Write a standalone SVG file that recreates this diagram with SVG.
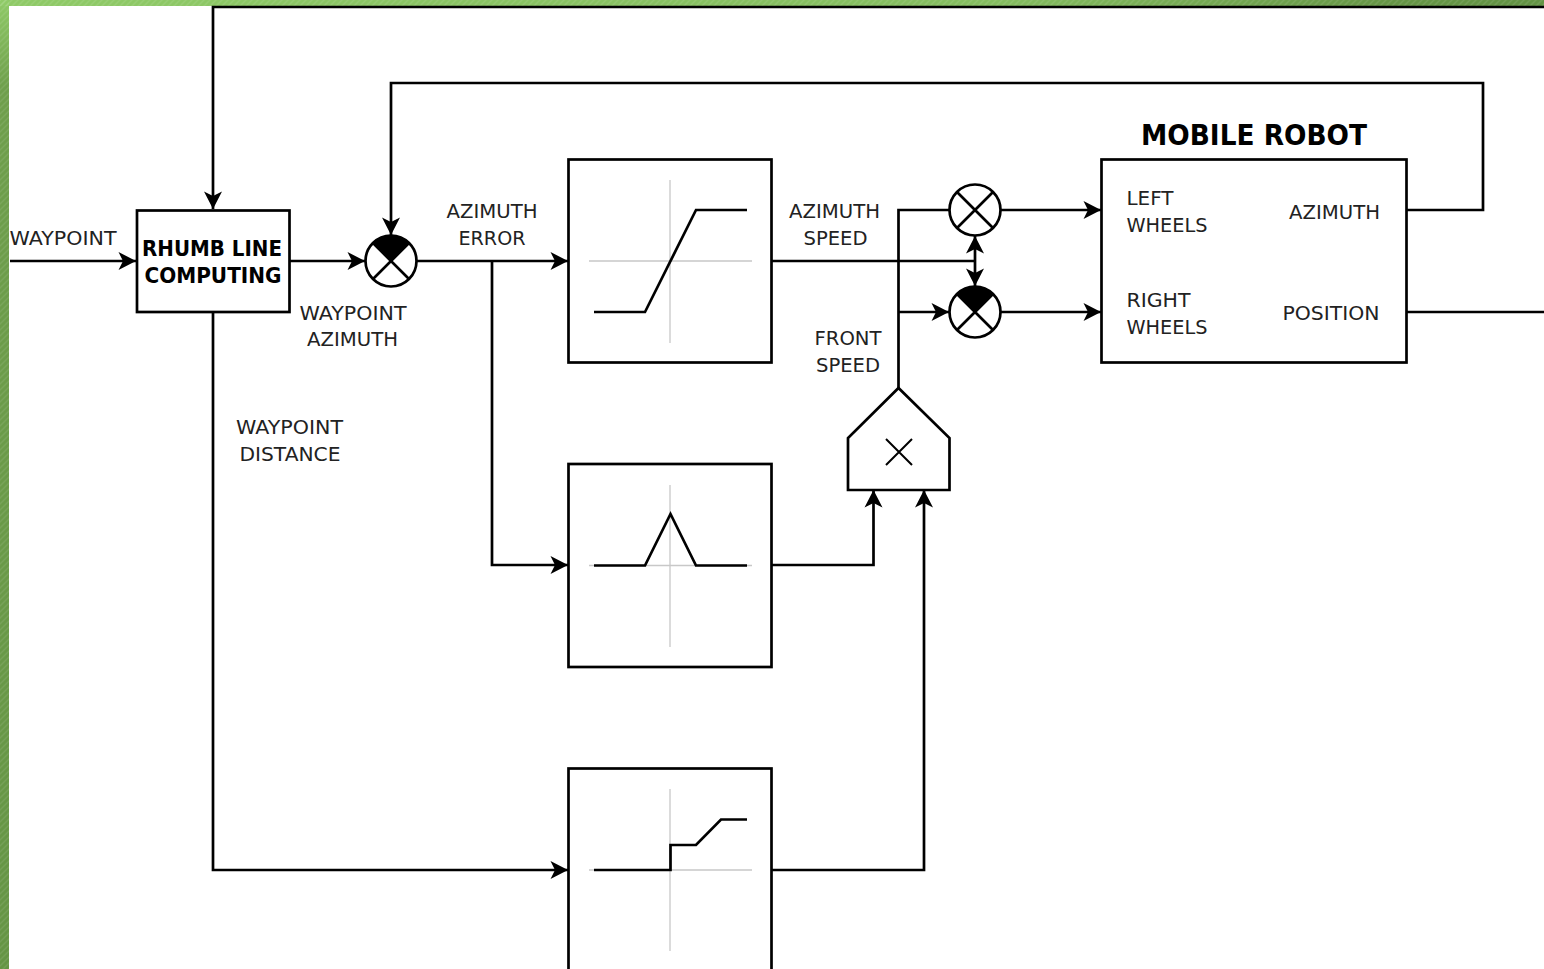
<svg xmlns="http://www.w3.org/2000/svg" width="1544" height="969" viewBox="0 0 1544 969">
<style>
.l{fill:none;stroke:#000;stroke-width:2.7}
.n{fill:#fff;stroke:#000;stroke-width:2.7}
.g{fill:none;stroke:#c8c8c8;stroke-width:1.3}
.t{font-family:"DejaVu Sans",sans-serif;font-size:20px;fill:#222;text-anchor:middle}
.b{font-family:"DejaVu Sans",sans-serif;font-weight:bold;fill:#000;text-anchor:middle}
</style>
<defs>
<linearGradient id="gl" x1="0" y1="0" x2="0" y2="1"><stop offset="0" stop-color="#8fca67"/><stop offset="0.09" stop-color="#6f9f4c"/><stop offset="1" stop-color="#659545"/></linearGradient>
<linearGradient id="gt" x1="0" y1="0" x2="1" y2="0"><stop offset="0" stop-color="#8fca67"/><stop offset="0.65" stop-color="#85bd60"/><stop offset="0.9" stop-color="#669646"/><stop offset="1" stop-color="#639344"/></linearGradient>
<pattern id="hatch" width="6" height="6" patternUnits="userSpaceOnUse"><path d="M-1 7L7 -1M-1 1L1 -1M5 7L7 5" stroke="#fff" stroke-opacity="0.09" stroke-width="1.5" fill="none"/></pattern>
<marker id="a" markerUnits="userSpaceOnUse" markerWidth="22" markerHeight="22" refX="18" refY="10" orient="auto-start-reverse"><path d="M0.500 1 L18 10 L0.500 19 L5 10Z" fill="#000"/></marker>
</defs>
<rect width="1544" height="969" fill="#fff"/>
<g id="border">
<rect x="0" y="0" width="9" height="969" fill="url(#gl)"/>
<rect x="0" y="0" width="1544" height="6" fill="url(#gt)"/>
<rect x="0" y="0" width="9" height="969" fill="url(#hatch)"/>
<rect x="0" y="0" width="1544" height="6" fill="url(#hatch)"/>
</g>
<g id="connectors">
<path class="l" d="M1544 7H213V209" marker-end="url(#a)"/>
<path class="l" d="M10 261H136" marker-end="url(#a)"/>
<path class="l" d="M290 261H365" marker-end="url(#a)"/>
<path class="l" d="M1407 210H1483V83H391V235" marker-end="url(#a)"/>
<path class="l" d="M417 261H568" marker-end="url(#a)"/>
<path class="l" d="M492 261V565H568" marker-end="url(#a)"/>
<path class="l" d="M213 312V870H568" marker-end="url(#a)"/>
<path class="l" d="M772 261H975"/>
<path class="l" d="M975 261V236" marker-end="url(#a)"/>
<path class="l" d="M975 261V286" marker-end="url(#a)"/>
<path class="l" d="M898.500 388V210H949"/>
<path class="l" d="M899 312H949" marker-end="url(#a)"/>
<path class="l" d="M1001 210H1101" marker-end="url(#a)"/>
<path class="l" d="M1001 312H1101" marker-end="url(#a)"/>
<path class="l" d="M1407 312H1544"/>
<path class="l" d="M772 565H873.500V490" marker-end="url(#a)"/>
<path class="l" d="M772 870H924V490" marker-end="url(#a)"/>
</g>
<g id="rhumb">
<rect class="n" x="137" y="210.500" width="152.500" height="101.500"/>
<text class="b" font-size="20.500" x="212" y="256" textLength="140" lengthAdjust="spacingAndGlyphs">RHUMB LINE</text>
<text class="b" font-size="20.500" x="213" y="283" textLength="137" lengthAdjust="spacingAndGlyphs">COMPUTING</text>
</g>
<g id="sum1">
<circle class="n" cx="391" cy="261" r="25.500"/>
<path d="M391 261L373 243A25.500 25.500 0 0 1 409 243Z" fill="#000"/>
<path class="l" d="M373 243L409 279M409 243L373 279"/>
</g>
<g id="mul-left">
<circle class="n" cx="975" cy="210" r="25.500"/>
<path class="l" d="M957 192L993 228M993 192L957 228"/>
</g>
<g id="sum2">
<circle class="n" cx="975" cy="312" r="25.500"/>
<path d="M975 312L957 294A25.500 25.500 0 0 1 993 294Z" fill="#000"/>
<path class="l" d="M957 294L993 330M993 294L957 330"/>
</g>
<g id="block1">
<rect class="n" x="568.500" y="159.500" width="203" height="203"/>
<path class="g" d="M670 180V343M589 261H752"/>
<path class="l" d="M594 312H645L696 210H747"/>
</g>
<g id="block2">
<rect class="n" x="568.500" y="464" width="203" height="203"/>
<path class="g" d="M670 485V647M589 565.500H752"/>
<path class="l" d="M594 565.500H645L670.500 514L696 565.500H747"/>
</g>
<g id="block3">
<rect class="n" x="568.500" y="768.500" width="203" height="203"/>
<path class="g" d="M670 789V951M589 870H752"/>
<path class="l" d="M594 870H670.500V845H696L721 819.500H747"/>
</g>
<g id="multiplier">
<path class="n" d="M848 490V438L898.500 388L949.500 438V490Z"/>
<path d="M886 439L912 465M912 439L886 465" fill="none" stroke="#000" stroke-width="2"/>
</g>
<g id="robot">
<rect class="n" x="1101.500" y="159.500" width="305" height="203"/>
<text class="b" font-size="28" x="1254" y="145" textLength="226" lengthAdjust="spacingAndGlyphs">MOBILE ROBOT</text>
<text class="t" x="1150" y="205" textLength="47" lengthAdjust="spacingAndGlyphs">LEFT</text>
<text class="t" x="1167" y="231.500" textLength="81" lengthAdjust="spacingAndGlyphs">WHEELS</text>
<text class="t" x="1158.500" y="307" textLength="64" lengthAdjust="spacingAndGlyphs">RIGHT</text>
<text class="t" x="1167" y="333.500" textLength="81" lengthAdjust="spacingAndGlyphs">WHEELS</text>
<text class="t" x="1334.500" y="218.500" textLength="91" lengthAdjust="spacingAndGlyphs">AZIMUTH</text>
<text class="t" x="1331" y="319.500" textLength="97" lengthAdjust="spacingAndGlyphs">POSITION</text>
</g>
<g id="labels">
<text class="t" x="63" y="244.500" textLength="107" lengthAdjust="spacingAndGlyphs">WAYPOINT</text>
<text class="t" x="353" y="319.500" textLength="107" lengthAdjust="spacingAndGlyphs">WAYPOINT</text>
<text class="t" x="352.500" y="346" textLength="91" lengthAdjust="spacingAndGlyphs">AZIMUTH</text>
<text class="t" x="492" y="218" textLength="91" lengthAdjust="spacingAndGlyphs">AZIMUTH</text>
<text class="t" x="492" y="244.500" textLength="67" lengthAdjust="spacingAndGlyphs">ERROR</text>
<text class="t" x="834.500" y="218" textLength="91" lengthAdjust="spacingAndGlyphs">AZIMUTH</text>
<text class="t" x="835.500" y="244.500" textLength="64" lengthAdjust="spacingAndGlyphs">SPEED</text>
<text class="t" x="848" y="345" textLength="67" lengthAdjust="spacingAndGlyphs">FRONT</text>
<text class="t" x="848" y="371.500" textLength="64" lengthAdjust="spacingAndGlyphs">SPEED</text>
<text class="t" x="289.500" y="434" textLength="107" lengthAdjust="spacingAndGlyphs">WAYPOINT</text>
<text class="t" x="290" y="461" textLength="101" lengthAdjust="spacingAndGlyphs">DISTANCE</text>
</g>
</svg>
